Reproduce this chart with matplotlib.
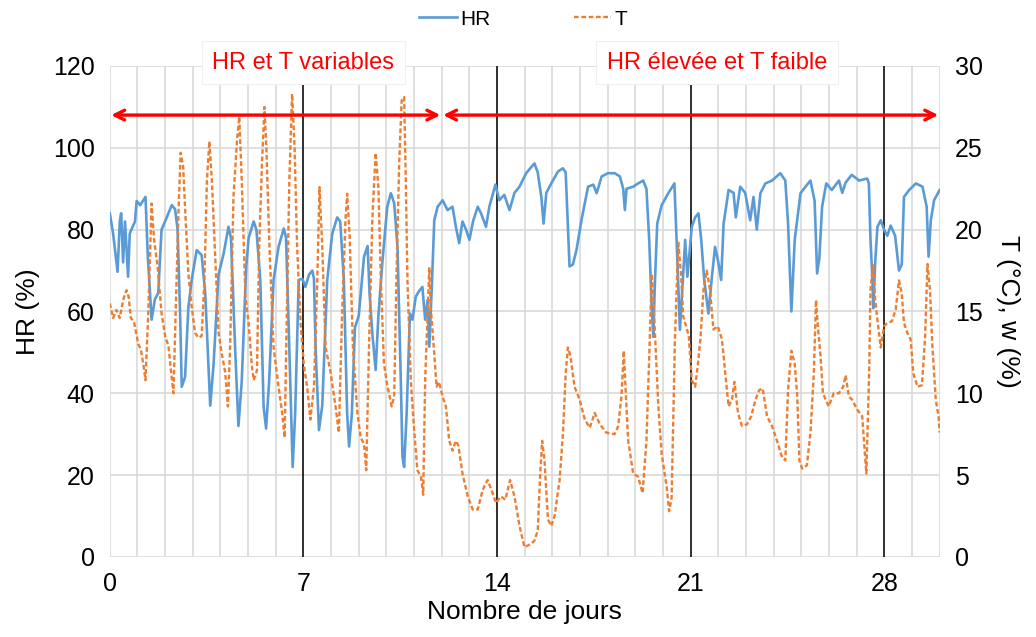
import numpy as np
import matplotlib
matplotlib.use('Agg')
import matplotlib.pyplot as plt

plt.rcParams['font.family'] = ['Liberation Sans', 'DejaVu Sans']

# relative humidity (HR, %) vs day
hr_days = [0.00, 0.12, 0.28, 0.36, 0.41, 0.48, 0.55, 0.66, 0.72, 0.78, 0.91, 0.97, 1.10, 1.29, 1.37,
           1.51, 1.63, 1.75, 1.87, 2.06, 2.24, 2.36, 2.45, 2.54, 2.60, 2.72, 2.84, 2.96, 3.14, 3.32,
           3.45, 3.57, 3.63, 3.75, 3.93, 4.11, 4.29, 4.38, 4.53, 4.65, 4.77, 4.93, 5.02, 5.20, 5.30,
           5.44, 5.56, 5.65, 5.76, 5.92, 6.10, 6.29, 6.37, 6.47, 6.59, 6.61, 6.70, 6.83, 6.96, 7.07,
           7.20, 7.32, 7.38, 7.44, 7.56, 7.68, 7.86, 8.04, 8.22, 8.33, 8.46, 8.58, 8.65, 8.75, 8.86,
           9.00, 9.19, 9.32, 9.39, 9.49, 9.61, 9.71, 9.85, 10.03, 10.16, 10.28, 10.40, 10.52, 10.58,
           10.64, 10.73, 10.85, 10.94, 11.06, 11.18, 11.30, 11.40, 11.49, 11.55, 11.64, 11.73, 11.85,
           12.03, 12.21, 12.39, 12.51, 12.63, 12.75, 12.88, 13.00, 13.13, 13.30, 13.42, 13.60, 13.72,
           13.94, 14.08, 14.26, 14.45, 14.63, 14.81, 15.05, 15.35, 15.47, 15.60, 15.68, 15.78, 15.96,
           16.20, 16.38, 16.48, 16.56, 16.62, 16.74, 16.87, 17.05, 17.29, 17.48, 17.60, 17.78, 18.01,
           18.25, 18.44, 18.56, 18.62, 18.68, 18.92, 19.10, 19.28, 19.40, 19.50, 19.59, 19.65, 19.70,
           19.79, 19.95, 20.19, 20.41, 20.49, 20.61, 20.70, 20.80, 20.88, 21.04, 21.16, 21.28, 21.38,
           21.49, 21.64, 21.76, 21.88, 22.00, 22.10, 22.19, 22.37, 22.55, 22.63, 22.79, 22.97, 23.15,
           23.27, 23.39, 23.52, 23.70, 23.94, 24.24, 24.42, 24.52, 24.64, 24.76, 24.85, 24.97, 25.15,
           25.33, 25.48, 25.57, 25.65, 25.75, 25.90, 26.10, 26.36, 26.48, 26.60, 26.82, 27.09, 27.38,
           27.44, 27.50, 27.57, 27.60, 27.67, 27.75, 27.87, 27.99, 28.11, 28.23, 28.39, 28.53, 28.63,
           28.71, 28.90, 29.14, 29.38, 29.53, 29.60, 29.68, 29.80, 30.00]
hr_vals = [84, 79, 69.7, 82, 84, 72, 82, 68.5, 79, 80, 82, 87, 86, 88, 74,
           58, 63, 64.5, 80, 83, 86, 85, 80, 59.6, 41.6, 44, 61, 67.7, 75, 73.8,
           64.4, 46.5, 37, 47, 69, 74, 80.7, 78, 51, 32, 43, 71, 78, 82, 80,
           67.7, 36.7, 31.4, 43, 67.7, 75.8, 80.3, 78, 55.5, 27, 22, 35, 67.7, 68, 66,
           69, 70, 68, 51, 31, 37, 67.7, 79, 83, 82, 67.7, 35, 27, 35, 56,
           59, 73.4, 76, 64.4, 54.7, 45.7, 59, 71.8, 85.6, 88.9, 86.5, 75.8, 43, 24.5,
           22, 35, 59.5, 58, 63.6, 65, 66, 58, 62.8, 51.4, 66, 82.3, 85.6,
           87.2, 84.8, 85.6, 80.7, 76.7, 82, 80, 77.5, 82, 85.6, 84, 80.7, 85.6,
           91, 87.2, 88.5, 84.8, 89, 90.5, 93.8, 96.2, 94, 88, 81.5, 89, 91.3,
           94.2, 95, 94, 80.7, 71, 71.5, 75, 82.3, 90.5, 91, 88.9, 93, 93.8,
           93.8, 93, 90, 84.8, 90, 90.5, 91.3, 92, 90, 77.5, 61, 53.8, 66,
           81.5, 86, 88.9, 91.3, 77.5, 55.5, 66, 77.5, 68.5, 80.7, 83, 84, 77.5,
           67.7, 59.5, 68, 75.8, 72, 67.7, 81.5, 89.7, 89, 83, 90.5, 89, 82.3,
           88, 80, 88.9, 91.3, 92, 93.8, 92, 81.5, 60, 77.5, 82.3, 88.9, 90.5,
           92, 87, 69.3, 73, 85.6, 91.3, 89.7, 92, 89, 91.5, 93.4, 92, 92.5,
           91.3, 77.5, 67.7, 60.8, 72, 80.7, 82.3, 80, 78.5, 81, 78.5, 70, 71.5,
           88, 89.7, 91.3, 90.5, 85.6, 73.4, 82.3, 87.2, 89.7]

# temperature (T, degC) vs day
t_days = [0.00, 0.12, 0.24, 0.36, 0.48, 0.60, 0.68, 0.76, 0.87, 1.03, 1.12, 1.21, 1.29, 1.39, 1.51,
          1.60, 1.73, 1.87, 2.00, 2.12, 2.21, 2.30, 2.38, 2.48, 2.56, 2.65, 2.73, 2.84, 2.96, 3.08,
          3.20, 3.32, 3.42, 3.51, 3.60, 3.69, 3.81, 3.93, 4.05, 4.17, 4.27, 4.35, 4.47, 4.60, 4.68,
          4.77, 4.90, 5.02, 5.14, 5.20, 5.32, 5.40, 5.50, 5.59, 5.66, 5.77, 5.92, 6.10, 6.23, 6.32,
          6.40, 6.49, 6.59, 6.68, 6.77, 6.90, 7.01, 7.14, 7.25, 7.38, 7.50, 7.58, 7.68, 7.80, 7.98,
          8.16, 8.28, 8.40, 8.52, 8.58, 8.67, 8.79, 8.95, 9.07, 9.19, 9.27, 9.37, 9.49, 9.61, 9.71,
          9.80, 9.91, 10.03, 10.19, 10.28, 10.36, 10.46, 10.55, 10.64, 10.70, 10.76, 10.88, 11.00,
          11.12, 11.25, 11.33, 11.40, 11.49, 11.55, 11.60, 11.73, 11.81, 11.90, 12.03, 12.15, 12.27,
          12.39, 12.51, 12.60, 12.75, 12.94, 13.12, 13.30, 13.48, 13.66, 13.84, 13.96, 14.14, 14.30,
          14.47, 14.63, 14.81, 14.99, 15.23, 15.35, 15.47, 15.56, 15.63, 15.71, 15.84, 15.96, 16.08,
          16.26, 16.38, 16.48, 16.56, 16.65, 16.80, 16.99, 17.17, 17.35, 17.53, 17.72, 17.95, 18.25,
          18.38, 18.50, 18.58, 18.65, 18.74, 18.92, 19.10, 19.26, 19.40, 19.50, 19.59, 19.65, 19.70,
          19.83, 19.95, 20.13, 20.22, 20.31, 20.43, 20.55, 20.65, 20.73, 20.85, 20.93, 21.04, 21.16,
          21.25, 21.35, 21.46, 21.58, 21.70, 21.82, 21.98, 22.13, 22.25, 22.37, 22.49, 22.58, 22.71,
          22.85, 23.03, 23.19, 23.34, 23.48, 23.60, 23.76, 23.94, 24.12, 24.30, 24.42, 24.52, 24.64,
          24.76, 24.85, 24.93, 25.03, 25.20, 25.33, 25.45, 25.53, 25.60, 25.69, 25.78, 25.99, 26.17,
          26.36, 26.51, 26.60, 26.72, 26.84, 27.02, 27.20, 27.35, 27.45, 27.50, 27.59, 27.67, 27.75,
          27.87, 27.99, 28.11, 28.27, 28.41, 28.53, 28.63, 28.71, 28.83, 28.95, 29.05, 29.20, 29.36,
          29.47, 29.56, 29.65, 29.74, 29.86, 29.96, 30.00]
t_vals = [15.5, 14.6, 15.1, 14.6, 15.7, 16.3, 15.9, 14.6, 14.4, 13, 12.7, 11.8, 10.8, 14.9, 21.6,
          19.4, 17.7, 14.9, 13.5, 12.9, 11.4, 10, 14.9, 21, 24.7, 23.9, 21, 17.3, 15.3, 13.7,
          13.4, 13.5, 16.9, 23, 25.4, 23, 18.3, 13.7, 12.4, 11.3, 9.2, 12.9, 22, 25.5, 26.9,
          23, 16, 14.2, 11.6, 10.8, 11.4, 19, 24, 27.5, 25, 19, 12.8, 10.4, 8.8, 7.3,
          15, 23, 28.3, 25, 19, 14.2, 11.8, 10.3, 8.4, 10.4, 16.9, 22.6, 19, 12.8, 11.3,
          9.2, 7.6, 15, 20.6, 22.2, 19.6, 12.8, 8.8, 7.3, 6.9, 5.3, 12.8, 20.6, 24.7, 22.6,
          16.9, 11.8, 10.5, 9.2, 9.8, 16.9, 24, 27.9, 28.1, 23, 16.9, 10.8, 7.8,
          5.3, 4.9, 3.8, 10.8, 14.9, 17.7, 15.3, 12.4, 10.4, 10.7, 9.8, 9.2, 7.1,
          6.5, 7.1, 6.8, 5.1, 3.7, 2.9, 2.9, 4.1, 4.7, 3.9, 3.3, 3.7, 3.5,
          4.7, 3.7, 1.9, 0.6, 0.8, 1.0, 1.6, 5.1, 7.1, 6.0, 2.3, 1.9, 2.5,
          4.7, 7.5, 11.2, 12.8, 12.3, 10.4, 9.6, 8.4, 7.9, 8.8, 8.1, 7.6, 7.5,
          8, 9.9, 12.6, 10.1, 7.1, 5.1, 4.9, 3.9, 7.1, 12.2, 17.3, 15.8, 14,
          9.2, 6.3, 4.3, 2.8, 3.6, 13.3, 19.2, 17.3, 14.7, 14, 13.5, 10.8, 10.4,
          11.6, 13.3, 16.3, 17.5, 16.3, 13.9, 14.1, 13.3, 11.2, 9.2, 9.6, 10.7, 8.8,
          8, 8.1, 8.6, 9.6, 10.2, 10.3, 8.6, 8, 7.1, 6.1, 5.9, 10.2, 12.6,
          11.8, 9.9, 5.9, 5.4, 5.6, 7.6, 11.2, 15.7, 14, 12.4, 10, 9.2, 10,
          10, 10.4, 11.1, 9.8, 9.6, 9, 8.6, 5.1, 11.2, 16.3, 17.9, 15.7, 14.5,
          12.8, 14.1, 14.3, 14.4, 15.1, 16.9, 16.1, 14.3, 13.7, 13.3, 11.2, 10.4, 10.5,
          13.3, 17.9, 16.3, 12.8, 9.6, 8.6, 7.6]

week_marks = [7, 14, 21, 28]
x_ticks = [0, 7, 14, 21, 28]
# (start day, end day, label centre day, label)
periods = [(0, 12, 7.0, 'HR et T variables'), (12, 30, 21.95, 'HR élevée et T faible')]

fig = plt.figure(figsize=(10.36, 6.37), dpi=100)
ax = fig.add_axes([0.106, 0.1256, 0.801, 0.7708])
ax2 = ax.twinx()

grid_c = '#d9d9d9'
for d in range(0, 31):
    ax.axvline(d, color=grid_c, lw=1.2, zorder=0)
for h in range(0, 121, 20):
    ax.axhline(h, color=grid_c, lw=1.2, zorder=0)
for d in week_marks:
    ax.axvline(d, color='black', lw=1.1, zorder=1)

ax.plot(hr_days, hr_vals, color='#5b9bd5', lw=1.9, label='HR', zorder=3)
ax2.plot(t_days, t_vals, color='#ed7d31', lw=1.7, ls=(0, (2.0, 1.1)), label='T', zorder=3)

ax.set_xlim(0, 30)
ax.set_ylim(0, 120)
ax2.set_ylim(0, 30)
ax.set_xticks(x_ticks)
ax.set_yticks(range(0, 121, 20))
ax2.set_yticks(range(0, 31, 5))
ax.tick_params(axis='both', length=0, labelsize=18, pad=11)
ax2.tick_params(axis='y', length=0, labelsize=18, pad=11)

for a in (ax, ax2):
    for s in a.spines.values():
        s.set_visible(False)

ax.set_xlabel('Nombre de jours', fontsize=19, labelpad=3)
ax.set_ylabel('HR (%)', fontsize=19, labelpad=9)
ax2.set_ylabel('T (°C), w (%)', fontsize=19, rotation=270, labelpad=27)

# period arrows and labels
for x0, x1, xc, txt in periods:
    ax2.annotate('', xy=(x0 + 0.05, 27), xytext=(x1 - 0.05, 27),
                 arrowprops=dict(arrowstyle='<->,head_length=0.7,head_width=0.35',
                                 color='red', lw=2.4, shrinkA=0, shrinkB=0), zorder=5)
    ax2.text(xc, 30.2, txt, color='red', fontsize=17, ha='center', va='center',
             zorder=6, clip_on=False,
             bbox=dict(boxstyle='square,pad=0.45', fc='white', ec='#f0f0f0', lw=0.8))

h1, l1 = ax.get_legend_handles_labels()
h2, l2 = ax2.get_legend_handles_labels()
fig.legend(h1 + h2, l1 + l2, loc='center', bbox_to_anchor=(0.505, 0.97), ncol=2, frameon=False,
           fontsize=15, handlelength=1.8, handletextpad=0.15, columnspacing=4.0)

fig.savefig('out.png', dpi=100)
